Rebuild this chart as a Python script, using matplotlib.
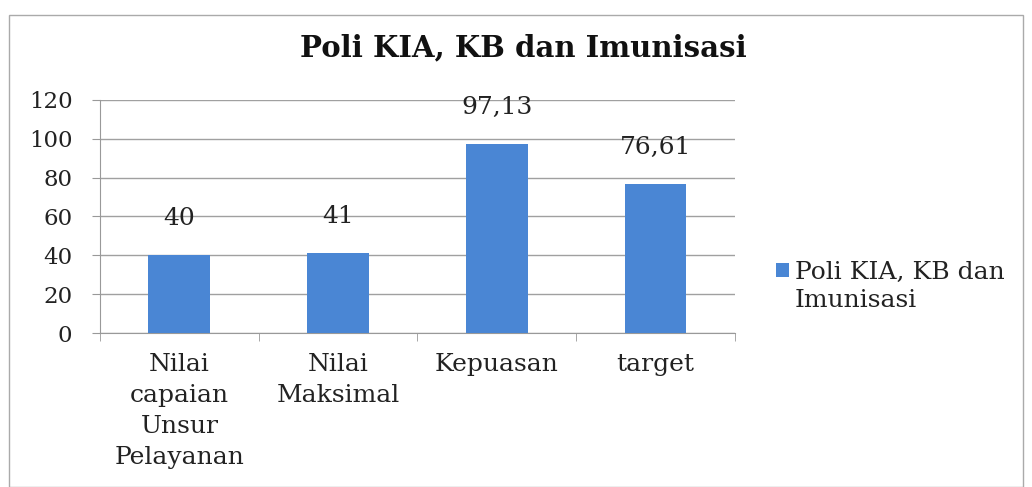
import matplotlib.pyplot as plt
from matplotlib.patches import Rectangle

categories = ["Nilai\ncapaian\nUnsur\nPelayanan", "Nilai\nMaksimal", "Kepuasan", "target"]
values = [40, 41, 97.13, 76.61]
value_labels = ["40", "41", "97,13", "76,61"]
series_name = ["Poli KIA, KB dan", "Imunisasi"]
title = "Poli KIA, KB dan Imunisasi"

plt.rcParams["font.family"] = ["DejaVu Serif"]

fig = plt.figure(figsize=(10.32, 4.87), dpi=100)
ax = fig.add_axes([0.097, 0.316, 0.615, 0.479])

x = list(range(len(categories)))
bars = ax.bar(x, values, width=0.39, color="#4a86d4", zorder=3)

# labels above the bars
for b, lab in zip(bars, value_labels):
    ax.text(b.get_x() + b.get_width() / 2, b.get_height() + 19, lab,
            ha="center", va="center", fontsize=18, color="#222222")

ax.set_ylim(0, 120)
ax.set_yticks(range(0, 121, 20))
ax.set_xlim(-0.5, len(categories) - 0.5)
ax.set_xticks(x)
ax.set_xticklabels(categories, fontsize=18, linespacing=1.45, color="#222222")
ax.tick_params(axis="x", length=0, pad=14)
ax.set_xticks([i - 0.5 for i in range(len(categories) + 1)], minor=True)
ax.tick_params(axis="x", which="minor", length=6, color="#999999")
ax.tick_params(axis="y", labelsize=16.5, length=6, color="#999999", pad=14,
               labelcolor="#222222")
ax.grid(axis="y", color="#a0a0a0", linewidth=1, zorder=0)

for s in ["top", "right"]:
    ax.spines[s].set_visible(False)
ax.spines["left"].set_color("#999999")
ax.spines["bottom"].set_color("#999999")

fig.text(0.507, 0.901, title, ha="center", va="center",
         fontsize=21, fontweight="bold", color="#111111")

# legend: square sits next to the first line, second line wraps below
leg = ax.legend([bars[0]], [series_name[0]], loc="center left",
                bbox_to_anchor=(1.03, 0.26), frameon=False,
                handlelength=0.5, handleheight=0.5, handletextpad=0.25,
                prop={"size": 18})
leg.get_texts()[0].set_color("#222222")
fig.canvas.draw()
ext = leg.get_texts()[0].get_window_extent()
fx, fy = fig.transFigure.inverted().transform((ext.x0, ext.y0 - 5))
fig.text(fx, fy, series_name[1], ha="left", va="top", fontsize=18, color="#222222")

fig.patches.append(Rectangle((0.009, 0.0), 0.982, 0.97, transform=fig.transFigure,
                             fill=False, edgecolor="#aaaaaa", linewidth=1))

fig.savefig("out.png", dpi=100)
